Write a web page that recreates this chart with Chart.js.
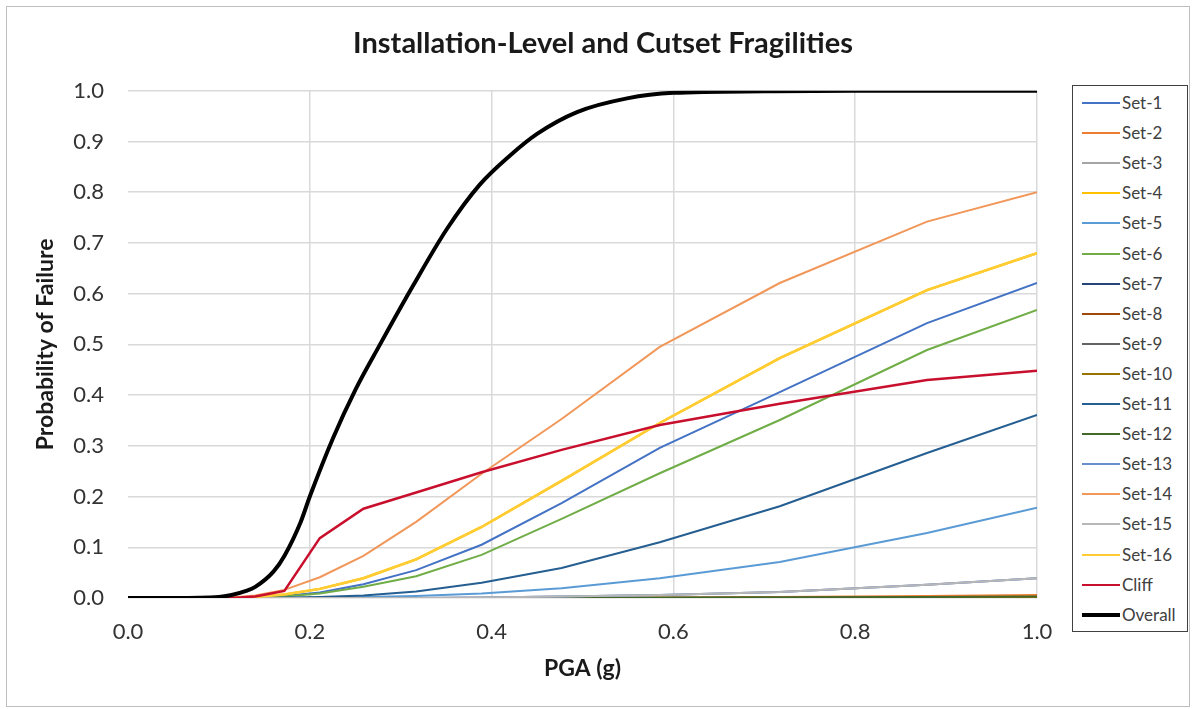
<!DOCTYPE html>
<html>
<head>
<title>Installation-Level and Cutset Fragilities</title>
<script src="https://cdn.jsdelivr.net/npm/chart.js@4.4.1/dist/chart.umd.min.js"></script>
<style>
  body { margin: 0; background: #fff; font-family: Lato, "Open Sans", sans-serif; }
  #frame { position: absolute; left: 6px; top: 6px; width: 1182px; height: 699px; border: 1px solid #bfbfbf; }
  #wrap { position: absolute; left: 0; top: 0; width: 1196px; height: 709px; }
  #legend { position: absolute; left: 1072px; top: 85px; width: 114px; height: 545px; border: 1px solid #404040; background: #fff; }
  .row { position: absolute; left: 0; height: 30px; line-height: 30px; font-size: 17px; color: #404040; white-space: nowrap; }
  .swatch { position: absolute; left: 9px; width: 38px; }
  .lbl { position: absolute; left: 49px; }
</style>
</head>
<body>
<div id="frame"></div>
<div id="wrap"><canvas id="myChart" width="1196" height="709"></canvas></div>
<div id="legend"></div>

<script>
// PGA values (g) at which the cutset fragilities are tabulated
var pga = [0, 0.093, 0.114, 0.14, 0.172, 0.211, 0.259, 0.317, 0.389, 0.477, 0.585, 0.717, 0.879, 1.0];

var set1  = [0, 0, 0, 0.001, 0.004, 0.011, 0.027, 0.055, 0.105, 0.187, 0.296, 0.406, 0.542, 0.621];
var set2  = [0, 0, 0, 0, 0, 0, 0, 0, 0, 0.001, 0.001, 0.002, 0.004, 0.006];
var set3  = [0, 0, 0, 0, 0, 0, 0, 0, 0.001, 0.003, 0.006, 0.012, 0.026, 0.039];
var set4  = [0, 0, 0, 0.002, 0.007, 0.018, 0.039, 0.076, 0.140, 0.231, 0.345, 0.473, 0.607, 0.680];
var set5  = [0, 0, 0, 0, 0, 0, 0.002, 0.004, 0.009, 0.019, 0.039, 0.071, 0.128, 0.178];
var set6  = [0, 0, 0, 0.001, 0.003, 0.009, 0.022, 0.043, 0.085, 0.156, 0.246, 0.351, 0.489, 0.568];
var set7  = [0, 0, 0, 0, 0, 0, 0, 0, 0, 0, 0, 0.001, 0.001, 0.002];
var set8  = [0, 0, 0, 0, 0, 0, 0, 0, 0, 0, 0, 0, 0.001, 0.001];
var set9  = [0, 0, 0, 0, 0, 0, 0, 0, 0, 0, 0, 0, 0.001, 0.001];
var set10 = [0, 0, 0, 0, 0, 0, 0, 0, 0, 0, 0, 0.001, 0.001, 0.002];
var set11 = [0, 0, 0, 0, 0.001, 0.002, 0.005, 0.013, 0.030, 0.059, 0.110, 0.181, 0.286, 0.361];
var set12 = [0, 0, 0, 0, 0, 0, 0, 0, 0, 0, 0.001, 0.001, 0.002, 0.003];
var set13 = [0, 0, 0, 0, 0, 0, 0, 0, 0.001, 0.003, 0.006, 0.012, 0.026, 0.039];
var set14 = [0, 0, 0.001, 0.005, 0.016, 0.041, 0.083, 0.150, 0.245, 0.353, 0.495, 0.621, 0.742, 0.800];
var set15 = [0, 0, 0, 0, 0, 0, 0, 0, 0.001, 0.003, 0.006, 0.012, 0.026, 0.039];
var set16 = [0, 0, 0, 0.002, 0.007, 0.018, 0.039, 0.076, 0.140, 0.231, 0.345, 0.473, 0.607, 0.680];
var cliff = [0, 0, 0, 0.003, 0.014, 0.118, 0.176, 0.208, 0.248, 0.292, 0.341, 0.383, 0.430, 0.448];

// installation-level curve, read on a finer grid
var overallPga = [0, 0.05, 0.1, 0.114, 0.13, 0.14, 0.16, 0.172, 0.19, 0.2, 0.2255, 0.25, 0.277, 0.314, 0.351, 0.387, 0.42, 0.45, 0.494, 0.549, 0.6, 0.7, 0.8, 1.0];
var overall    = [0, 0, 0.002, 0.006, 0.014, 0.022, 0.052, 0.083, 0.15, 0.2, 0.315, 0.41, 0.499, 0.617, 0.728, 0.815, 0.872, 0.915, 0.958, 0.985, 0.996, 0.999, 1.0, 1.0];

var xTicks = [0, 0.2, 0.4, 0.6, 0.8, 1.0];

var series = [
  ['Set-1', set1, '#4472C4', 2],
  ['Set-2', set2, '#ED7D31', 2],
  ['Set-3', set3, '#A5A5A5', 2],
  ['Set-4', set4, '#FFC000', 2.5],
  ['Set-5', set5, '#5B9BD5', 2],
  ['Set-6', set6, '#70AD47', 2],
  ['Set-7', set7, '#264478', 2],
  ['Set-8', set8, '#9E480E', 2],
  ['Set-9', set9, '#636363', 2],
  ['Set-10', set10, '#997300', 2],
  ['Set-11', set11, '#255E91', 2],
  ['Set-12', set12, '#43682B', 2],
  ['Set-13', set13, '#698ED0', 2],
  ['Set-14', set14, '#F1975A', 2],
  ['Set-15', set15, '#B7B7B7', 2],
  ['Set-16', set16, '#FFCD33', 2.5],
  ['Cliff', cliff, '#C8102E', 2.5]
];

function pts(xs, ys) {
  return xs.map(function (x, i) { return { x: x, y: ys[i] }; });
}

var datasets = series.map(function (s, i) {
  return {
    label: s[0],
    data: pts(pga, s[1]),
    borderColor: s[2],
    backgroundColor: s[2],
    borderWidth: s[3],
    pointRadius: 0,
    tension: 0,
    order: -i
  };
});
datasets.push({
  label: 'Overall',
  data: pts(overallPga, overall),
  borderColor: '#000000',
  backgroundColor: '#000000',
  borderWidth: 4,
  pointRadius: 0,
  cubicInterpolationMode: 'monotone',
  order: -100
});

// html legend built from the same list
var legend = document.getElementById('legend');
datasets.forEach(function (d, i) {
  var row = document.createElement('div');
  row.className = 'row';
  row.style.top = (2 + i * 30.1) + 'px';
  var sw = document.createElement('div');
  sw.className = 'swatch';
  var h = d.label === 'Overall' ? 4 : 2;
  sw.style.height = h + 'px';
  sw.style.top = (15 - h / 2) + 'px';
  sw.style.background = d.borderColor;
  var lb = document.createElement('div');
  lb.className = 'lbl';
  lb.textContent = d.label;
  row.appendChild(sw);
  row.appendChild(lb);
  legend.appendChild(row);
});

var ctx = document.getElementById('myChart').getContext('2d');
var myChart = new Chart(ctx, {
  type: 'line',
  data: { datasets: datasets },
  options: {
    responsive: false,
    animation: false,
    layout: { padding: { left: 26, right: 16, top: 10, bottom: 20 } },
    plugins: {
      legend: { display: false },
      tooltip: { enabled: false },
      title: {
        display: true,
        text: 'Installation-Level and Cutset Fragilities',
        color: '#1a1a1a',
        font: { family: 'Lato', size: 29, weight: 'bold' },
        padding: { top: 16, bottom: 30 }
      }
    },
    scales: {
      x: {
        type: 'linear',
        min: 0,
        max: 1,
        afterFit: function (s) { s.height = 91; },
        afterBuildTicks: function (s) { s.ticks = xTicks.map(function (v) { return { value: v }; }); },
        grid: {
          color: function (c) { return c.tick && c.tick.value === 0 ? 'rgba(0,0,0,0)' : '#d9d9d9'; },
          lineWidth: 1.5,
          drawTicks: false
        },
        border: { display: false },
        ticks: {
          padding: 21,
          color: '#333',
          font: { family: 'Lato', size: 22 },
          callback: function (v) { return Number(v).toFixed(1); }
        },
        title: {
          display: true,
          text: 'PGA (g)',
          color: '#1a1a1a',
          font: { family: 'Lato', size: 23, weight: 'bold' },
          padding: { top: 0, bottom: 7 }
        }
      },
      y: {
        min: 0,
        max: 1,
        afterFit: function (s) { s.width = 102; },
        grid: { color: '#d9d9d9', lineWidth: 1.5, drawTicks: false },
        border: { display: false },
        ticks: {
          stepSize: 0.1,
          autoSkip: false,
          padding: 24,
          color: '#333',
          font: { family: 'Lato', size: 22 },
          callback: function (v) { return Number(v).toFixed(1); }
        },
        title: {
          display: true,
          text: 'Probability of Failure',
          color: '#1a1a1a',
          font: { family: 'Lato', size: 23, weight: 'bold' },
          padding: { top: 6, bottom: 0 }
        }
      },
      // empty axis that keeps room for the legend box on the right
      yRoom: {
        position: 'right',
        display: true,
        afterFit: function (s) { s.width = 143; },
        grid: { display: false },
        border: { display: false },
        ticks: { display: false }
      }
    }
  }
});
</script>
</body>
</html>
